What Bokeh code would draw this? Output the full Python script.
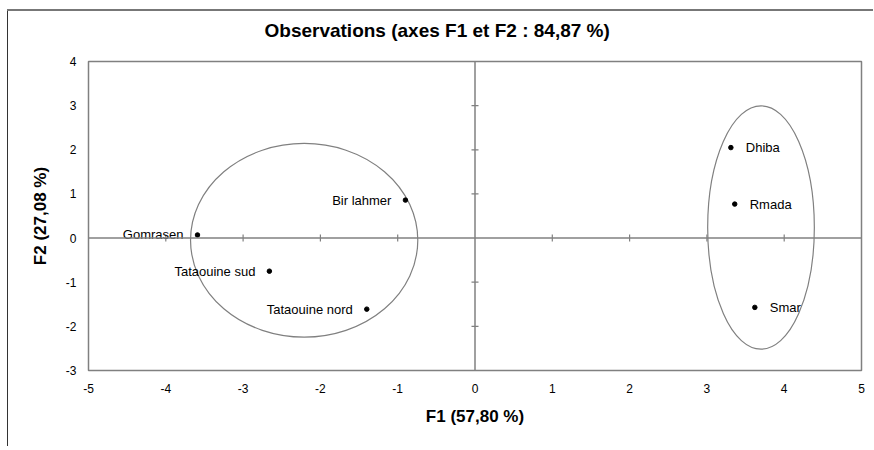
from bokeh.plotting import figure
from bokeh.models import ColumnDataSource, Span, FixedTicker
from bokeh.core.properties import value
from bokeh.embed import file_html
from bokeh.resources import INLINE
import math

# ---- data ----
names = ["Gomrasen", "Bir lahmer", "Tataouine sud", "Tataouine nord", "Dhiba", "Rmada", "Smar"]
f1 = [-3.59, -0.90, -2.66, -1.40, 3.31, 3.36, 3.62]
f2 = [0.07, 0.86, -0.75, -1.61, 2.05, 0.77, -1.57]

ellipse_x = [-2.21, 3.70]
ellipse_y = [-0.05, 0.24]
ellipse_w = [2.94, 1.38]
ellipse_h = [4.39, 5.52]

x_ticks = [-5, -4, -3, -2, -1, 0, 1, 2, 3, 4, 5]
x_tick_labels = ["-5", "-4", "-3", "-2", "-1", "0", "1", "2", "3", "4", "5"]
y_ticks = [-3, -2, -1, 0, 1, 2, 3, 4]
y_tick_labels = ["-3", "-2", "-1", "0", "1", "2", "3", "4"]

title_text = "Observations (axes F1 et F2 : 84,87 %)"
x_label = "F1 (57,80 %)"
y_label = "F2 (27,08 %)"

FONT = "Liberation Sans"
GREY = "#808080"

p = figure(width=866, height=446, output_backend="svg", toolbar_location=None,
           x_range=(-5, 5), y_range=(-3, 4),
           min_border_left=81, min_border_right=12, min_border_top=61, min_border_bottom=76)
# chart-area frame lines (top and left) drawn behind a transparent border area
p.styles = {
    "margin-left": "7px",
    "margin-top": "0px",
    "background-image": "linear-gradient(#777777, #777777), linear-gradient(#333333, #333333)",
    "background-size": "100% 2px, 1px 100%",
    "background-position": "0 9px, 0 9px",
    "background-repeat": "no-repeat",
}

p.title.text = title_text
p.title.align = "left"
p.title.offset = 176
p.title.vertical_align = "top"
p.title.standoff = 37
p.title.text_font = FONT
p.title.text_font_size = "19px"
p.title.text_font_style = "bold"
p.title.text_color = "#000000"

p.grid.visible = False
p.outline_line_color = GREY
p.outline_line_width = 1.5
p.background_fill_color = "white"
p.border_fill_color = None

for ax in (p.xaxis[0], p.yaxis[0]):
    ax.axis_line_color = None
    ax.major_tick_line_color = None
    ax.minor_tick_line_color = None
    ax.major_tick_out = 0
    ax.major_tick_in = 0
    ax.major_label_text_font = FONT
    ax.major_label_text_font_size = "12px"
    ax.major_label_text_color = "#000000"
    ax.axis_label_text_font = FONT
    ax.axis_label_text_font_size = "17px"
    ax.axis_label_text_font_style = "bold"
    ax.axis_label_text_color = "#000000"

p.xaxis.ticker = FixedTicker(ticks=x_ticks)
p.xaxis.major_label_overrides = {t: l for t, l in zip(x_ticks, x_tick_labels)}
p.yaxis.ticker = FixedTicker(ticks=y_ticks)
p.yaxis.major_label_overrides = {t: l for t, l in zip(y_ticks, y_tick_labels)}
p.xaxis.axis_label = x_label
p.yaxis.axis_label = y_label
p.xaxis.major_label_standoff = 13
p.xaxis.axis_label_standoff = 11
p.yaxis.major_label_standoff = 12
p.yaxis.axis_label_standoff = 13

# central axes
p.add_layout(Span(location=0, dimension="height", line_color=GREY, line_width=1.5))
p.add_layout(Span(location=0, dimension="width", line_color=GREY, line_width=1.5))
xt = [t for t in x_ticks if t not in (0, x_ticks[0], x_ticks[-1])]
yt = [t for t in y_ticks if t not in (0, y_ticks[0], y_ticks[-1])]
p.scatter(xt, [0] * len(xt), marker="dash", angle=math.pi / 2, size=7,
          line_color=GREY, line_width=1.2)
p.scatter([0] * len(yt), yt, marker="dash", size=7, line_color=GREY, line_width=1.2)

# ellipses
p.ellipse(x=ellipse_x, y=ellipse_y, width=ellipse_w, height=ellipse_h,
          fill_color=None, line_color=GREY, line_width=1.2)

# points
p.scatter(f1, f2, marker="circle", size=4.5, fill_color="black", line_color="black")

left = ColumnDataSource(dict(x=[a for a in f1 if a < 0],
                             y=[b for a, b in zip(f1, f2) if a < 0],
                             t=[n for a, n in zip(f1, names) if a < 0]))
right = ColumnDataSource(dict(x=[a for a in f1 if a >= 0],
                              y=[b for a, b in zip(f1, f2) if a >= 0],
                              t=[n for a, n in zip(f1, names) if a >= 0]))
p.text(x="x", y="y", text="t", source=left, text_align="right", text_baseline="middle",
       x_offset=-14, text_font=value(FONT), text_font_size="13px", text_color="black")
p.text(x="x", y="y", text="t", source=right, text_align="left", text_baseline="middle",
       x_offset=15, text_font=value(FONT), text_font_size="13px", text_color="black")

open("out.html", "w").write(file_html(p, INLINE))
